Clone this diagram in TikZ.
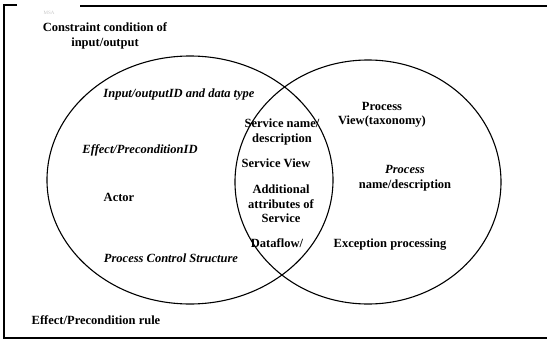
\documentclass[tikz,border=0pt]{standalone}
\usepackage{fontspec}
\setmainfont{Liberation Serif}
\begin{document}
\begin{tikzpicture}[x=1pt,y=-1pt,
  lbl/.style={font=\fontsize{12.5}{14.5}\selectfont\bfseries, align=center, inner sep=0pt},
  lbli/.style={font=\fontsize{12.5}{14.5}\selectfont\bfseries\itshape, align=center, inner sep=0pt},
  framel/.style={line width=1.4pt},
  circl/.style={line width=1.1pt}]
\useasboundingbox (0,0) rectangle (547,340);
% frame
\coordinate (tl) at (4,5);
\coordinate (tla) at (17,5);
\coordinate (trb) at (80,6);
\coordinate (tr) at (547,6);
\coordinate (bl) at (4,338);
\coordinate (br) at (547,338);
\draw[framel] (tla) -- (tl) -- (bl) -- (br);
\draw[framel] (trb) -- (tr);
\node[font=\tiny, text=gray!45, inner sep=0pt] (faint) at (49,13) {MSA};
% circles
\draw[circl] (190,180) ellipse [x radius=143, y radius=124];
\draw[circl] (368,182) ellipse [x radius=133, y radius=122];
% labels
\node[lbl] (cons) at (105,36) {Constraint condition of\\input/output};
\node[lbli] (io) at (179,95) {Input/outputID and data type};
\node[lbli] (eff) at (140,150) {Effect/PreconditionID};
\node[lbl] (actor) at (119,197) {Actor};
\node[lbli] (pcs) at (171,258) {Process Control Structure};
\node[lbl] (rule) at (96,320) {Effect/Precondition rule};
\node[lbl] (sn) at (282,132) {Service name/\\description};
\node[lbl] (sv) at (276,163) {Service View};
\node[lbl] (add) at (281,204) {Additional\\attributes of\\Service};
\node[lbl] (df) at (277,243) {Dataflow/};
\node[lbl] (pv) at (382,115) {Process\\View(taxonomy)};
\node[lbl] (pn) at (405,178) {\textit{Process}\\name/description};
\node[lbl] (ep) at (390,245) {Exception processing};
\end{tikzpicture}
\end{document}
